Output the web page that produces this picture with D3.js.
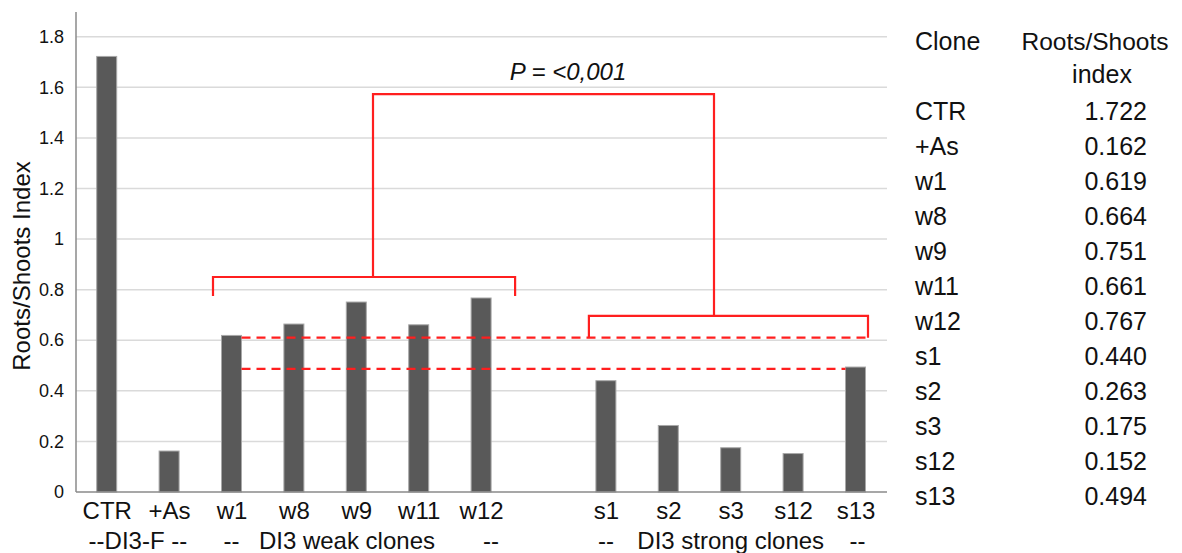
<!DOCTYPE html>
<html><head><meta charset="utf-8">
<script src="https://cdn.jsdelivr.net/npm/d3@7"></script>
<style>
html,body{margin:0;padding:0;background:#fff;}
svg{display:block;font-family:"Liberation Sans",Arial,sans-serif;}
</style></head>
<body><svg id="c" width="1182" height="553"></svg>
<script>
const weakCats = ["CTR","+As","w1","w8","w9","w11","w12"];
const strongCats = ["s1","s2","s3","s12","s13"];
const categories = weakCats.concat(strongCats);
const values = [1.722,0.162,0.619,0.664,0.751,0.661,0.767,0.440,0.263,0.175,0.152,0.494];
const valueLabels = ["1.722","0.162","0.619","0.664","0.751","0.661","0.767","0.440","0.263","0.175","0.152","0.494"];
const yTicks = [0,0.2,0.4,0.6,0.8,1,1.2,1.4,1.6,1.8];
const yTickLabels = ["0","0.2","0.4","0.6","0.8","1","1.2","1.4","1.6","1.8"];
const refLines = [0.61, 0.487];
const bracketLevels = {weak:0.85, strong:0.696, top:1.573};
const yLabel = "Roots/Shoots Index";
const pText = "P = <0,001";
const tableHeader = ["Clone","Roots/Shoots","index"];

const svg = d3.select("#c");
const x = d3.scalePoint().domain(weakCats.concat(["_gap"], strongCats)).range([106.7, 855.5]);
const y = d3.scaleLinear().domain([0,1.8]).range([492, 36.7]);
const axisX0 = 76, axisX1 = 887;
const red = "#ff1f1f";

// gridlines
svg.append("g").selectAll("line").data(yTicks.slice(1)).join("line")
  .attr("x1", axisX0).attr("x2", axisX1)
  .attr("y1", d=>y(d)).attr("y2", d=>y(d))
  .attr("stroke","#dadada").attr("stroke-width",1.5);

// y axis with labels
const yAxis = d3.axisLeft(y).tickValues(yTicks).tickFormat((d,i)=>yTickLabels[i]).tickSize(0).tickPadding(12);
const gy = svg.append("g").attr("transform",`translate(${axisX0},0)`).call(yAxis);
gy.select(".domain").remove();
gy.selectAll("text").attr("font-size",18).attr("fill","#111").attr("font-family","Liberation Sans, Arial, sans-serif");
svg.append("line").attr("x1",axisX0).attr("x2",axisX0).attr("y1",12).attr("y2",y(0)).attr("stroke","#8a8a8a").attr("stroke-width",1.5);

// bars
const bw = 20;
svg.append("g").selectAll("rect").data(categories).join("rect")
  .attr("x", d=>x(d)-bw/2).attr("width", bw)
  .attr("y", (d,i)=>y(values[i])).attr("height",(d,i)=>y(0)-y(values[i]))
  .attr("fill","#595959").attr("stroke","#a8a8a8").attr("stroke-width",1);

// x axis baseline
svg.append("line").attr("x1",axisX0).attr("x2",axisX1).attr("y1",y(0)).attr("y2",y(0)).attr("stroke","#8a8a8a").attr("stroke-width",1.5);

// x tick labels
const xAxis = d3.axisBottom(x).tickValues(categories).tickSize(0).tickPadding(10);
const gx = svg.append("g").attr("transform",`translate(0,${y(0)})`).call(xAxis);
gx.select(".domain").remove();
gx.selectAll("text").attr("font-size",24).attr("fill","#111").attr("font-family","Liberation Sans, Arial, sans-serif").attr("dy","0.72em");

// group labels
const groupLabels = [
  {t:"--DI3-F --", xx:(x("CTR")+x("+As"))/2},
  {t:"--", xx:x("w1")},
  {t:"DI3 weak clones", xx:x("w8")+0.85*(x("w9")-x("w8"))},
  {t:"--", xx:x("w12")+10},
  {t:"--", xx:x("s1")},
  {t:"DI3 strong clones", xx:x("s3")},
  {t:"--", xx:x("s13")+2}
];
svg.append("g").selectAll("text").data(groupLabels).join("text")
  .attr("x",d=>d.xx).attr("y",549).attr("text-anchor","middle")
  .attr("font-size",24).attr("fill","#111").text(d=>d.t);

// y label
svg.append("text").attr("transform","translate(30,266) rotate(-90)").attr("text-anchor","middle")
  .attr("font-size",24).attr("fill","#111").text(yLabel);

// reference dashed lines
const dash = "9,6";
svg.append("line").attr("x1",x("w1")+bw/2).attr("x2",x("s13")+12.5)
  .attr("y1",y(refLines[0])).attr("y2",y(refLines[0])).attr("stroke",red).attr("stroke-width",2.2).attr("stroke-dasharray",dash);
svg.append("line").attr("x1",x("w1")+bw/2).attr("x2",x("s13")-bw/2)
  .attr("y1",y(refLines[1])).attr("y2",y(refLines[1])).attr("stroke",red).attr("stroke-width",2.2).attr("stroke-dasharray",dash);

// brackets
const wL = x("w1")-18.5, wR = x("w12")+34, wC = 373;
const sL = x("s1")-17, sR = x("s13")+12.5, sC = 714;
const lineGen = d3.line();
function path(pts){ svg.append("path").attr("d",lineGen(pts)).attr("fill","none").attr("stroke",red).attr("stroke-width",2.2); }
path([[wL,y(0.775)],[wL,y(bracketLevels.weak)],[wR,y(bracketLevels.weak)],[wR,y(0.775)]]);
path([[wC,y(bracketLevels.weak)],[wC,y(bracketLevels.top)],[sC,y(bracketLevels.top)],[sC,y(bracketLevels.strong)]]);
path([[sL,y(refLines[0])],[sL,y(bracketLevels.strong)],[sR,y(bracketLevels.strong)],[sR,y(refLines[0])]]);

// P text
svg.append("text").attr("x",568).attr("y",80).attr("text-anchor","middle")
  .attr("font-size",24).attr("font-style","italic").attr("fill","#111").text(pText);

// table
const tx0 = 915, txR = 1147, fs = 25;
svg.append("text").attr("x",tx0).attr("y",50).attr("font-size",fs).attr("fill","#111").text(tableHeader[0]);
svg.append("text").attr("x",1095).attr("y",50).attr("text-anchor","middle").attr("font-size",24.5).attr("fill","#111").text(tableHeader[1]);
svg.append("text").attr("x",1102).attr("y",83).attr("text-anchor","middle").attr("font-size",fs).attr("fill","#111").text(tableHeader[2]);
const rowY = d3.scalePoint().domain(categories).range([120, 120+35*(categories.length-1)]);
const tg = svg.append("g");
tg.selectAll("text.c").data(categories).join("text").attr("class","c")
  .attr("x",tx0).attr("y",d=>rowY(d)).attr("font-size",fs).attr("fill","#111").text(d=>d);
tg.selectAll("text.v").data(categories).join("text").attr("class","v")
  .attr("x",txR).attr("y",d=>rowY(d)).attr("text-anchor","end").attr("font-size",fs).attr("fill","#111").text((d,i)=>valueLabels[i]);
</script></body></html>
